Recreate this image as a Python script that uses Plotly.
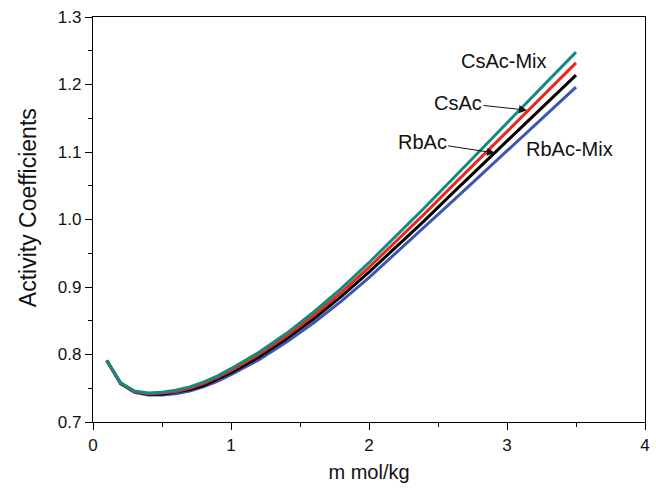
import plotly.graph_objects as go

m = [0.1, 0.2, 0.3, 0.4, 0.5, 0.6, 0.7, 0.8, 0.9, 1.0, 1.2, 1.4, 1.6, 1.8, 2.0,
     2.2, 2.4, 2.6, 2.8, 3.0, 3.2, 3.4, 3.5]
csac_mix = [0.791, 0.758, 0.746, 0.743, 0.744, 0.747, 0.752, 0.759, 0.768, 0.779, 0.803,
            0.831, 0.863, 0.898, 0.936, 0.976, 1.017, 1.059, 1.101, 1.143, 1.185, 1.227, 1.248]
csac = [0.791, 0.758, 0.745, 0.742, 0.743, 0.745, 0.750, 0.757, 0.766, 0.776, 0.800,
        0.827, 0.858, 0.892, 0.929, 0.968, 1.008, 1.049, 1.090, 1.131, 1.171, 1.212, 1.232]
rbac = [0.791, 0.757, 0.745, 0.741, 0.741, 0.744, 0.748, 0.754, 0.763, 0.773, 0.796,
        0.823, 0.853, 0.886, 0.922, 0.960, 0.998, 1.038, 1.077, 1.116, 1.156, 1.195, 1.214]
rbac_mix = [0.791, 0.757, 0.744, 0.740, 0.740, 0.742, 0.746, 0.752, 0.760, 0.770, 0.792,
            0.818, 0.847, 0.879, 0.914, 0.951, 0.988, 1.026, 1.064, 1.102, 1.140, 1.177, 1.196]

series = [
    ("RbAc-Mix", rbac_mix, "#3d56b2"),
    ("RbAc", rbac, "#000000"),
    ("CsAc", csac, "#e8281e"),
    ("CsAc-Mix", csac_mix, "#178a80"),
]

fig = go.Figure()
for name, ys, col in series:
    fig.add_trace(go.Scatter(x=m, y=ys, mode="lines", name=name,
                             line=dict(color=col, width=3)))

FAM = "Liberation Sans, Arial, sans-serif"
ann_font = dict(family=FAM, size=20, color="#111")
title_font = dict(family=FAM, size=20, color="#111")
ann = [
    dict(text="CsAc-Mix", x=2.98, y=1.235, showarrow=False),
    dict(text="RbAc-Mix", x=3.45, y=1.105, showarrow=False),
    dict(text="CsAc", x=3.145, y=1.162, ax=2.645, ay=1.173, showarrow=True),
    dict(text="RbAc", x=2.913, y=1.0985, ax=2.385, ay=1.115, showarrow=True),
]
for a in ann:
    extra = {}
    if a.get("showarrow"):
        extra = dict(axref="x", ayref="y", arrowhead=2, arrowsize=1.6, arrowwidth=1,
                     arrowcolor="#111", standoff=0, startstandoff=0)
    fig.add_annotation(xref="x", yref="y", font=ann_font, **a, **extra)

# y-axis title as rotated text
fig.add_annotation(text="Activity Coefficients", xref="paper", yref="paper",
                   x=-0.118, y=0.53, showarrow=False, textangle=-90,
                   font=dict(family=FAM, size=23, color="#111"),
                   xanchor="center", yanchor="middle")

axis_common = dict(showline=True, linecolor="black", linewidth=1.3, mirror=True,
                   ticks="outside", ticklen=7, tickwidth=1.3, tickcolor="black",
                   showgrid=False, zeroline=False, automargin=False,
                   tickfont=dict(family=FAM, size=17, color="#111"))
fig.update_xaxes(range=[0, 4], dtick=1, tick0=0,
                 minor=dict(ticks="outside", ticklen=4, dtick=0.5, tick0=0, tickcolor="black", tickwidth=1.3),
                 title=dict(text="m mol/kg", font=title_font, standoff=11), **axis_common)
fig.update_yaxes(range=[0.7, 1.3], dtick=0.1, tick0=0.7, tickformat=".1f",
                 minor=dict(ticks="outside", ticklen=4, dtick=0.05, tick0=0.7, tickcolor="black", tickwidth=1.3),
                 **axis_common)
fig.update_layout(width=656, height=490, showlegend=False,
                  margin=dict(l=93, r=11, t=17, b=68),
                  plot_bgcolor="white", paper_bgcolor="white")
fig.write_html("out.html")
